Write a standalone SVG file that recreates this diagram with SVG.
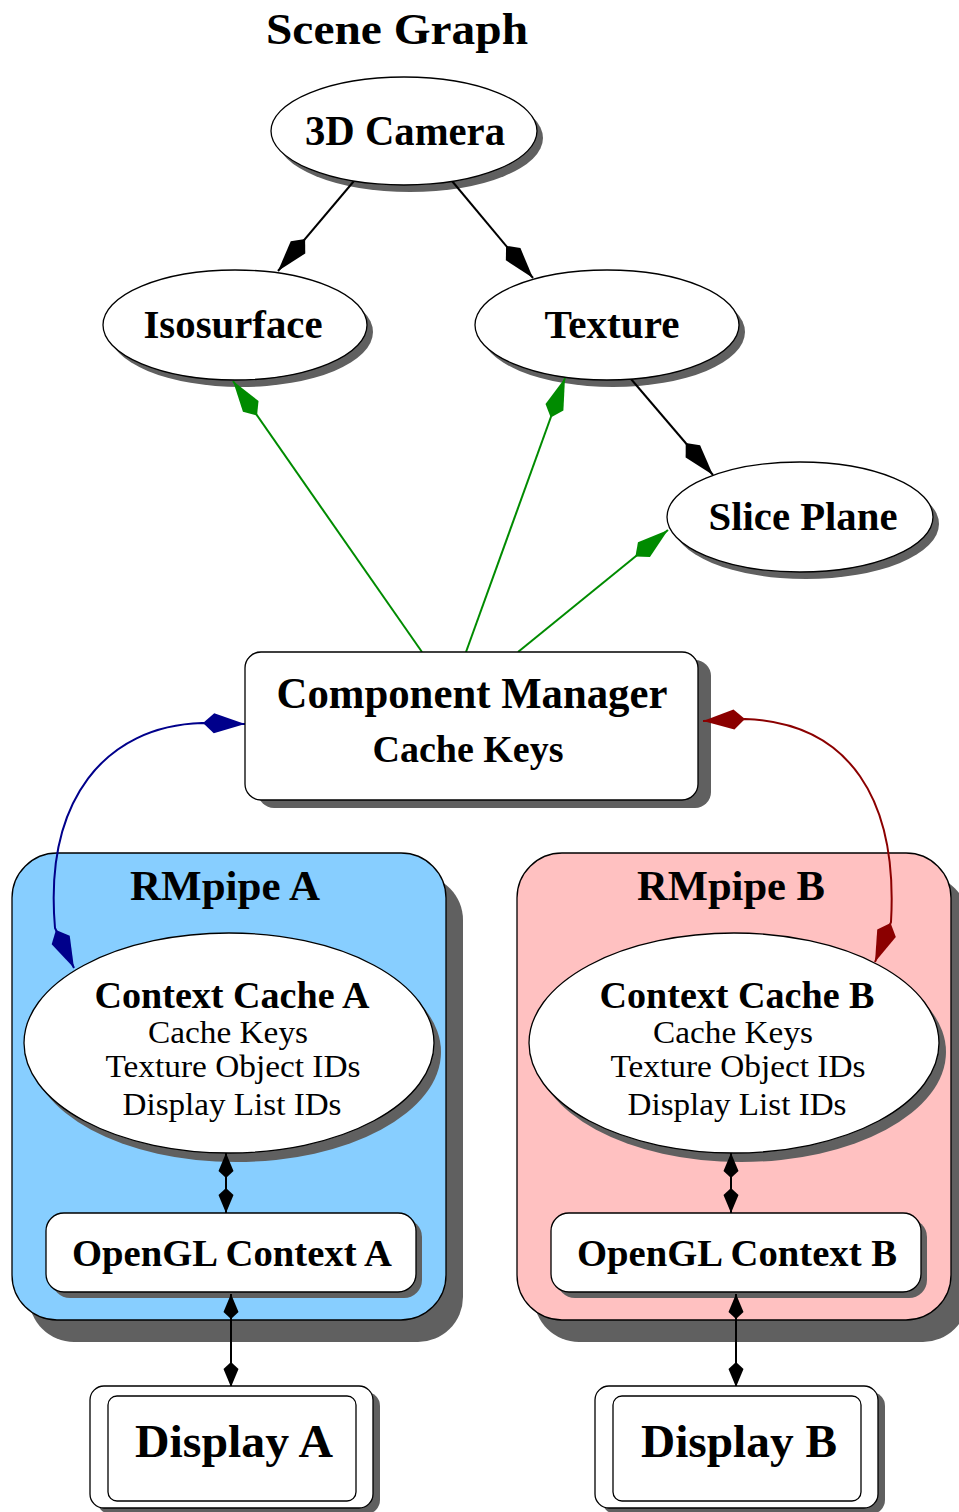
<svg xmlns="http://www.w3.org/2000/svg" width="959" height="1512" viewBox="0 0 959 1512">
<style>
text{font-family:"Liberation Serif","Times New Roman",serif;fill:#000;text-anchor:middle}
.b{font-weight:bold}
.sh{fill:#606060;stroke:none}
.nd{fill:#fff;stroke:#000;stroke-width:1.3}
.e{fill:none;stroke-width:2}
</style>
<defs>
<marker id="mk" markerUnits="userSpaceOnUse" orient="auto" overflow="visible" markerWidth="1" markerHeight="1"><path d="M0,0 L-31,-9.5 L-42,0 L-31,9.5 Z" fill="#000"/></marker>
<marker id="mg" markerUnits="userSpaceOnUse" orient="auto" overflow="visible" markerWidth="1" markerHeight="1"><path d="M0,0 L-31,-9.5 L-42,0 L-31,9.5 Z" fill="#008b00"/></marker>
<marker id="mbs" markerUnits="userSpaceOnUse" orient="auto-start-reverse" overflow="visible" markerWidth="1" markerHeight="1"><path d="M0,0 L-31,-10 L-42,0 L-31,10 Z" fill="#00008b"/></marker>
<marker id="mrs" markerUnits="userSpaceOnUse" orient="auto-start-reverse" overflow="visible" markerWidth="1" markerHeight="1"><path d="M0,0 L-31,-10 L-42,0 L-31,10 Z" fill="#8b0000"/></marker>
<marker id="ms" markerUnits="userSpaceOnUse" orient="auto-start-reverse" overflow="visible" markerWidth="1" markerHeight="1"><path d="M0,0 L-18,-7.5 L-25,0 L-18,7.5 Z" fill="#000"/></marker>
</defs>

<text class="b" x="397" y="44" font-size="45" textLength="262" lengthAdjust="spacingAndGlyphs">Scene Graph</text>

<g id="cluster_A">
<rect class="sh" x="29" y="875" width="434" height="467" rx="45"/>
<rect x="12" y="853" width="434" height="467" rx="45" fill="#87ceff" stroke="#000" stroke-width="1.3"/>
<text class="b" x="225" y="900" font-size="43" textLength="190" lengthAdjust="spacingAndGlyphs">RMpipe A</text>
</g>
<g id="cluster_B">
<rect class="sh" x="534" y="875" width="434" height="467" rx="45"/>
<rect x="517" y="853" width="434" height="467" rx="45" fill="#ffc1c1" stroke="#000" stroke-width="1.3"/>
<text class="b" x="731" y="900" font-size="43" textLength="188" lengthAdjust="spacingAndGlyphs">RMpipe B</text>
</g>

<g id="shadows">
<ellipse class="sh" cx="410" cy="138" rx="133" ry="54"/>
<ellipse class="sh" cx="241" cy="332" rx="132" ry="55"/>
<ellipse class="sh" cx="613" cy="332" rx="132" ry="55"/>
<ellipse class="sh" cx="806" cy="524" rx="133" ry="55"/>
<rect class="sh" x="258" y="660" width="453" height="148" rx="16"/>
<ellipse class="sh" cx="236" cy="1052" rx="205" ry="110"/>
<ellipse class="sh" cx="741" cy="1052" rx="205" ry="110"/>
<rect class="sh" x="52" y="1219" width="370" height="79" rx="18"/>
<rect class="sh" x="557" y="1219" width="370" height="79" rx="18"/>
<rect class="sh" x="97" y="1392" width="283" height="122" rx="14"/>
<rect class="sh" x="602" y="1392" width="283" height="122" rx="14"/>
</g>

<g id="edges">
<path class="e" stroke="#000" d="M354,181 L278,271" marker-end="url(#mk)"/>
<path class="e" stroke="#000" d="M452,181 L533,278" marker-end="url(#mk)"/>
<path class="e" stroke="#000" d="M631,379 L713,475" marker-end="url(#mk)"/>
<path class="e" stroke="#008b00" d="M422,652 L233,381" marker-end="url(#mg)"/>
<path class="e" stroke="#008b00" d="M466,652 L565,378" marker-end="url(#mg)"/>
<path class="e" stroke="#008b00" d="M518,652 L668,530" marker-end="url(#mg)"/>
<path class="e" stroke="#00008b" d="M245,724 L202,723 C105,726 44,800 55,928 L74,968" marker-start="url(#mbs)" marker-end="url(#mbs)"/>
<path class="e" stroke="#8b0000" d="M703,721 L745,719 C850,723 898,800 891,922 L875,962" marker-start="url(#mrs)" marker-end="url(#mrs)"/>
<path class="e" stroke="#000" d="M226,1153 L226,1213" marker-start="url(#ms)" marker-end="url(#ms)"/>
<path class="e" stroke="#000" d="M231,1294 L231,1387" marker-start="url(#ms)" marker-end="url(#ms)"/>
<path class="e" stroke="#000" d="M731,1153 L731,1213" marker-start="url(#ms)" marker-end="url(#ms)"/>
<path class="e" stroke="#000" d="M736,1294 L736,1387" marker-start="url(#ms)" marker-end="url(#ms)"/>
</g>

<g id="camera">
<ellipse class="nd" cx="404" cy="131" rx="133" ry="54"/>
<text class="b" x="405" y="145" font-size="42" textLength="200" lengthAdjust="spacingAndGlyphs">3D Camera</text>
</g>
<g id="isosurface">
<ellipse class="nd" cx="235" cy="325" rx="132" ry="55"/>
<text class="b" x="233" y="338" font-size="41" textLength="179" lengthAdjust="spacingAndGlyphs">Isosurface</text>
</g>
<g id="texture">
<ellipse class="nd" cx="607" cy="325" rx="132" ry="55"/>
<text class="b" x="612" y="338" font-size="41" textLength="135" lengthAdjust="spacingAndGlyphs">Texture</text>
</g>
<g id="sliceplane">
<ellipse class="nd" cx="800" cy="517" rx="133" ry="55"/>
<text class="b" x="803" y="530" font-size="41" textLength="189" lengthAdjust="spacingAndGlyphs">Slice Plane</text>
</g>
<g id="component_manager">
<rect class="nd" x="245" y="652" width="453" height="148" rx="16"/>
<text class="b" x="472" y="708" font-size="44" textLength="391" lengthAdjust="spacingAndGlyphs">Component Manager</text>
<text class="b" x="468" y="762" font-size="38" textLength="191" lengthAdjust="spacingAndGlyphs">Cache Keys</text>
</g>
<g id="context_cache_A">
<ellipse class="nd" cx="229" cy="1043" rx="205" ry="110"/>
<text class="b" x="232" y="1008" font-size="37" textLength="275" lengthAdjust="spacingAndGlyphs">Context Cache A</text>
<text x="228" y="1043" font-size="32" textLength="160" lengthAdjust="spacingAndGlyphs">Cache Keys</text>
<text x="233" y="1077" font-size="32" textLength="255" lengthAdjust="spacingAndGlyphs">Texture Object IDs</text>
<text x="232" y="1115" font-size="32" textLength="219" lengthAdjust="spacingAndGlyphs">Display List IDs</text>
</g>
<g id="context_cache_B">
<ellipse class="nd" cx="734" cy="1043" rx="205" ry="110"/>
<text class="b" x="737" y="1008" font-size="37" textLength="275" lengthAdjust="spacingAndGlyphs">Context Cache B</text>
<text x="733" y="1043" font-size="32" textLength="160" lengthAdjust="spacingAndGlyphs">Cache Keys</text>
<text x="738" y="1077" font-size="32" textLength="255" lengthAdjust="spacingAndGlyphs">Texture Object IDs</text>
<text x="737" y="1115" font-size="32" textLength="219" lengthAdjust="spacingAndGlyphs">Display List IDs</text>
</g>
<g id="opengl_A">
<rect class="nd" x="46" y="1213" width="370" height="79" rx="18"/>
<text class="b" x="232" y="1266" font-size="37" textLength="320" lengthAdjust="spacingAndGlyphs">OpenGL Context A</text>
</g>
<g id="opengl_B">
<rect class="nd" x="551" y="1213" width="370" height="79" rx="18"/>
<text class="b" x="737" y="1266" font-size="37" textLength="320" lengthAdjust="spacingAndGlyphs">OpenGL Context B</text>
</g>
<g id="display_A">
<rect class="nd" x="90" y="1386" width="283" height="122" rx="14"/>
<rect class="nd" x="108" y="1396" width="248" height="105" rx="9"/>
<text class="b" x="234" y="1457" font-size="47" textLength="198" lengthAdjust="spacingAndGlyphs">Display A</text>
</g>
<g id="display_B">
<rect class="nd" x="595" y="1386" width="283" height="122" rx="14"/>
<rect class="nd" x="613" y="1396" width="248" height="105" rx="9"/>
<text class="b" x="739" y="1457" font-size="47" textLength="196" lengthAdjust="spacingAndGlyphs">Display B</text>
</g>
</svg>
